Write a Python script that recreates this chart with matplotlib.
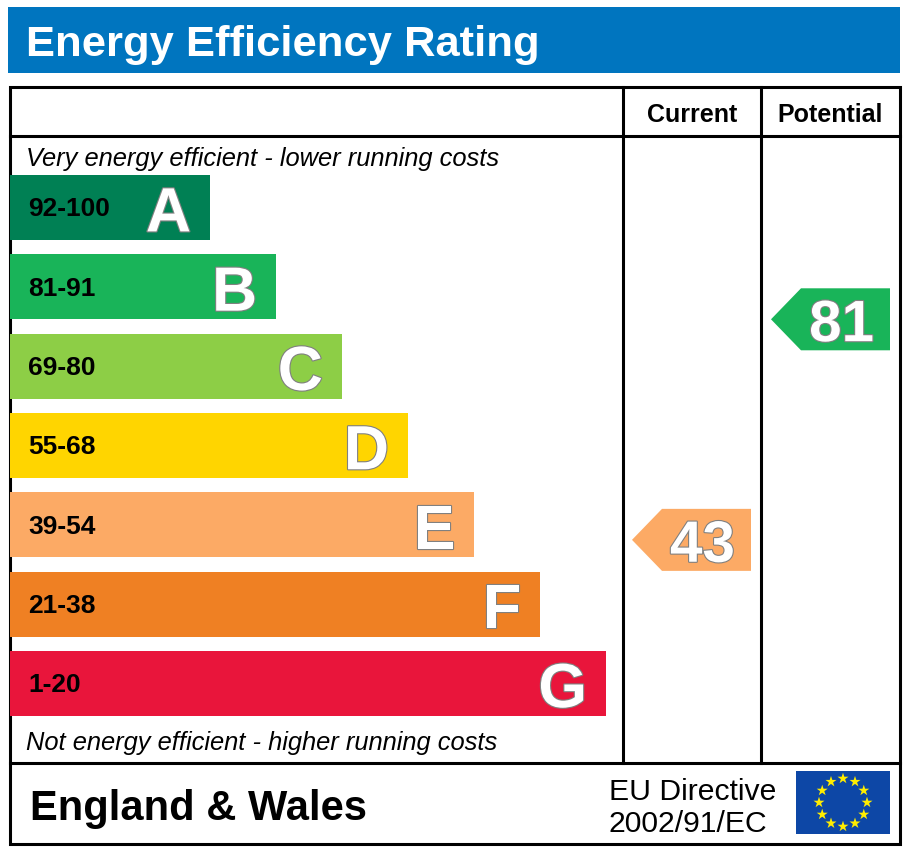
import numpy as np
import matplotlib
matplotlib.use('Agg')
import matplotlib.pyplot as plt
from matplotlib.patches import Rectangle, Polygon
import matplotlib.patheffects as pe

plt.rcParams['font.family'] = ['Liberation Sans', 'DejaVu Sans']

# EPC data
letters = ['A', 'B', 'C', 'D', 'E', 'F', 'G']
ranges = ['92-100', '81-91', '69-80', '55-68', '39-54', '21-38', '1-20']
lows = [92, 81, 69, 55, 39, 21, 1]
highs = [100, 91, 80, 68, 54, 38, 20]
colors = ['#008054', '#19b459', '#8dce46', '#ffd500', '#fcaa65', '#ef8023', '#e9153b']
current = 43
potential = 81


def band_of(value):
    for i, lo in enumerate(lows):
        if value >= lo:
            return i
    return len(lows) - 1


def cap(fs):
    # cap height in pixels for a given font size (pt) at 100 dpi
    return 0.716 * fs * 100 / 72


W, H = 907, 853
fig = plt.figure(figsize=(W / 100, H / 100), dpi=100)
ax = fig.add_axes([0, 0, 1, 1])
ax.set_xlim(0, W)
ax.set_ylim(H, 0)
ax.axis('off')

# title bar
ax.add_patch(Rectangle((8, 8), 892, 66, facecolor='#0075bf', edgecolor='none'))
ax.text(26, 41 + cap(31) / 2, 'Energy Efficiency Rating', color='white', fontsize=31.3,
        fontweight='bold', va='baseline', ha='left')

# frame
lw = 2.2
ax.add_patch(Rectangle((10, 88), 890, 757, facecolor='none', edgecolor='black', lw=lw))
ax.plot([10, 900], [137, 137], color='black', lw=lw)
ax.plot([10, 900], [764, 764], color='black', lw=lw)
ax.plot([623, 623], [88, 764], color='black', lw=lw)
ax.plot([761, 761], [88, 764], color='black', lw=lw)

ax.text(692, 113 + cap(18) / 2, 'Current', fontsize=18, fontweight='bold', ha='center', va='baseline')
ax.text(830, 113 + cap(18) / 2, 'Potential', fontsize=18, fontweight='bold', ha='center', va='baseline')

ax.text(26, 157 + cap(18) / 2, 'Very energy efficient - lower running costs', fontsize=18.4,
        style='italic', ha='left', va='baseline')
ax.text(26, 741 + cap(18) / 2, 'Not energy efficient - higher running costs', fontsize=18.4,
        style='italic', ha='left', va='baseline')

# bands
top0, step, bh = 176, 79.3, 65
outline = [pe.withStroke(linewidth=1.6, foreground='#808080')]
for i, (let, rng, col) in enumerate(zip(letters, ranges, colors)):
    y = top0 + i * step
    right = 210 + i * 66.0
    ax.add_patch(Rectangle((10, y), right - 10, bh, facecolor=col, edgecolor='none'))
    ax.text(28, y + 31 + cap(19) / 2, rng, fontsize=19, fontweight='bold', ha='left',
            va='baseline', color='black')
    t = ax.text(right - 19, y + 34 + cap(45) / 2, let, fontsize=45, fontweight='bold',
                ha='right', va='baseline', color='white')
    t.set_path_effects(outline)


def arrow(x0, x1, value):
    i = band_of(value)
    # vertical position follows the value inside its band
    y = top0 + i * step + (highs[i] - value) / (highs[i] - lows[i]) * bh
    y0, y1 = y - 31, y + 31
    pts = [(x0, y), (x0 + 30, y0), (x1, y0), (x1, y1), (x0 + 30, y1)]
    ax.add_patch(Polygon(pts, closed=True, facecolor=colors[i], edgecolor='none'))
    xc = x0 + 30 + (x1 - x0 - 30) / 2 - 4
    t = ax.text(xc, y + 1 + cap(42) / 2, str(value), fontsize=42, fontweight='bold',
                ha='center', va='baseline', color='white')
    t.set_path_effects(outline)


arrow(632, 751, current)
arrow(771, 890, potential)

# footer
ax.text(30, 805 + cap(30) / 2, 'England & Wales', fontsize=30, fontweight='bold',
        ha='left', va='baseline')
ax.text(609, 789 + cap(21.5) / 2, 'EU Directive', fontsize=21.7, ha='left', va='baseline')
ax.text(609, 821 + cap(21.5) / 2, '2002/91/EC', fontsize=21.7, ha='left', va='baseline')

# EU flag
ax.add_patch(Rectangle((796, 772), 94, 63, facecolor='#0d47a6', edgecolor='none'))
ang = np.linspace(0, 2 * np.pi, 13)[:-1]
ax.scatter(843 + 24 * np.cos(ang), 803.5 + 24 * np.sin(ang), marker='*', s=70,
           color='#ffed00', edgecolors='none', zorder=5)

fig.savefig('out.png', dpi=100)
